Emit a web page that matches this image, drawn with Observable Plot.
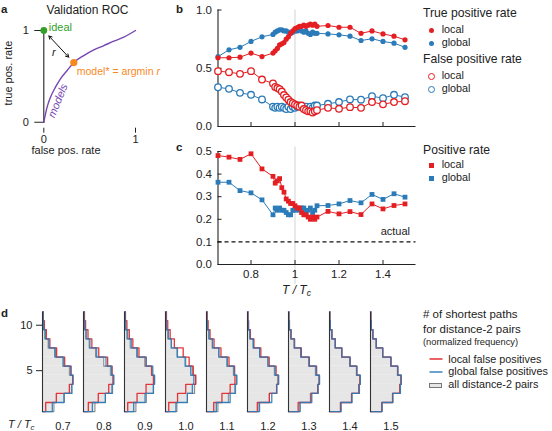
<!DOCTYPE html>
<html><head><meta charset="utf-8">
<script src="https://cdn.jsdelivr.net/npm/d3@7"></script>
<script src="https://cdn.jsdelivr.net/npm/@observablehq/plot@0.6"></script>
<style>
body{margin:0;background:#fff;}
#fig{position:relative;width:552px;height:431px;font-family:"Liberation Sans",Arial,sans-serif;color:#222;overflow:hidden;background:#fff}
#fig svg{position:absolute;overflow:visible}
.t{position:absolute;white-space:nowrap;line-height:1;}
.t sub{font-size:0.72em;vertical-align:-0.25em;line-height:0}
.mk{position:absolute;box-sizing:border-box}
</style></head><body><div id="fig"></div>
<script>
// ---------- data ----------
// panel a: validation ROC
const rocFpr = [0, 0.036, 0.073, 0.127, 0.182, 0.255, 0.327, 0.436, 0.545, 0.655, 0.764, 0.873, 1];
const rocTpr = [0, 0.164, 0.273, 0.382, 0.473, 0.564, 0.65, 0.727, 0.789, 0.836, 0.884, 0.927, 1];
const idealPt = [0, 1];
const modelPt = [0.327, 0.65];

// panels b, c: temperature T/Tc
const Tvals = [0.65, 0.70, 0.75, 0.80, 0.85,
  0.90, 0.91, 0.92, 0.93, 0.94, 0.95, 0.96, 0.97, 0.98, 0.99, 1.00,
  1.01, 1.02, 1.03, 1.04, 1.05, 1.06, 1.07, 1.08, 1.09, 1.10,
  1.15, 1.20, 1.25, 1.30, 1.35, 1.40, 1.45, 1.50];
const tprLocal = [0.59, 0.59, 0.595, 0.63, 0.60,
  0.63, 0.65, 0.67, 0.70, 0.71, 0.72, 0.75, 0.77, 0.80, 0.82, 0.84,
  0.85, 0.86, 0.86, 0.87, 0.86, 0.87, 0.88, 0.87, 0.88, 0.86,
  0.867, 0.852, 0.852, 0.80, 0.82, 0.795, 0.775, 0.744];
const tprGlobal = [0.60, 0.658, 0.68, 0.73, 0.77,
  0.79, 0.81, 0.82, 0.83, 0.83, 0.82, 0.82, 0.81, 0.80, 0.81, 0.82,
  0.82, 0.83, 0.82, 0.81, 0.82, 0.80, 0.79, 0.81, 0.80, 0.80,
  0.795, 0.787, 0.775, 0.738, 0.753, 0.73, 0.715, 0.68];
const fprLocal = [0.475, 0.466, 0.452, 0.475, 0.403,
  0.37, 0.34, 0.33, 0.32, 0.30, 0.27, 0.25, 0.23, 0.21, 0.20, 0.19,
  0.18, 0.17, 0.18, 0.15, 0.14, 0.13, 0.13, 0.12, 0.13, 0.14,
  0.16, 0.152, 0.166, 0.16, 0.21, 0.19, 0.21, 0.217];
const fprGlobal = [0.337, 0.323, 0.289, 0.272, 0.232,
  0.17, 0.16, 0.17, 0.16, 0.17, 0.16, 0.15, 0.17, 0.15, 0.17, 0.16,
  0.17, 0.18, 0.17, 0.16, 0.17, 0.15, 0.17, 0.16, 0.18, 0.18,
  0.195, 0.21, 0.232, 0.23, 0.26, 0.243, 0.272, 0.252];
const prLocal = [0.482, 0.475, 0.465, 0.49, 0.423,
  0.39, 0.36, 0.37, 0.38, 0.34, 0.32, 0.29, 0.28, 0.27, 0.27, 0.26,
  0.25, 0.25, 0.23, 0.22, 0.22, 0.21, 0.20, 0.21, 0.20, 0.21,
  0.235, 0.224, 0.234, 0.221, 0.268, 0.246, 0.261, 0.268];
const prGlobal = [0.364, 0.364, 0.327, 0.317, 0.286,
  0.22, 0.25, 0.24, 0.25, 0.24, 0.24, 0.23, 0.22, 0.22, 0.24, 0.24,
  0.25, 0.24, 0.25, 0.25, 0.23, 0.24, 0.25, 0.23, 0.24, 0.26,
  0.261, 0.268, 0.283, 0.273, 0.31, 0.288, 0.313, 0.298];
const actualRate = 0.1;
const criticalT = 1;
const xTicksBC = [0.8, 1, 1.2, 1.4];

// panel d: histograms of # shortest paths (bins 1..11)
const dLabels = ["0.7", "0.8", "0.9", "1.0", "1.1", "1.2", "1.3", "1.4", "1.5"];
const pathBins = [1, 2, 3, 4, 5, 6, 7, 8, 9, 10, 11];
const allPairs = [0.071, 0.136, 0.181, 0.188, 0.167, 0.126, 0.075, 0.035, 0.014, 0.005, 0.002];
const localFP = [
  [0.020, 0.086, 0.167, 0.188, 0.178, 0.138, 0.088, 0.046, 0.024, 0.012, 0.005],
  [0.030, 0.092, 0.157, 0.183, 0.178, 0.150, 0.095, 0.052, 0.028, 0.013, 0.006],
  [0.020, 0.078, 0.134, 0.180, 0.170, 0.134, 0.090, 0.052, 0.030, 0.015, 0.006],
  [0.020, 0.075, 0.126, 0.188, 0.173, 0.147, 0.110, 0.055, 0.029, 0.014, 0.006],
  [0.045, 0.096, 0.147, 0.177, 0.175, 0.140, 0.090, 0.047, 0.022, 0.010, 0.004],
  [0.061, 0.136, 0.181, 0.193, 0.178, 0.135, 0.083, 0.040, 0.018, 0.007, 0.003],
  [0.060, 0.140, 0.183, 0.192, 0.175, 0.130, 0.080, 0.038, 0.016, 0.006, 0.002],
  [0.068, 0.138, 0.184, 0.190, 0.170, 0.128, 0.077, 0.036, 0.015, 0.005, 0.002],
  [0.070, 0.138, 0.183, 0.190, 0.170, 0.127, 0.076, 0.036, 0.015, 0.005, 0.002]];
const globalFP = [
  [0.061, 0.133, 0.183, 0.190, 0.175, 0.132, 0.080, 0.040, 0.018, 0.008, 0.004],
  [0.055, 0.136, 0.177, 0.188, 0.175, 0.140, 0.082, 0.040, 0.017, 0.008, 0.003],
  [0.057, 0.128, 0.179, 0.186, 0.176, 0.135, 0.080, 0.042, 0.020, 0.008, 0.004],
  [0.065, 0.136, 0.167, 0.176, 0.157, 0.122, 0.072, 0.037, 0.018, 0.006, 0.003],
  [0.061, 0.147, 0.177, 0.188, 0.172, 0.130, 0.078, 0.038, 0.016, 0.006, 0.002],
  [0.075, 0.151, 0.182, 0.193, 0.172, 0.128, 0.076, 0.036, 0.015, 0.005, 0.002],
  [0.072, 0.145, 0.184, 0.193, 0.172, 0.128, 0.077, 0.036, 0.015, 0.005, 0.002],
  [0.072, 0.140, 0.186, 0.192, 0.170, 0.128, 0.077, 0.036, 0.015, 0.005, 0.002],
  [0.072, 0.139, 0.186, 0.192, 0.170, 0.128, 0.077, 0.036, 0.015, 0.005, 0.002]];

// ---------- styles ----------
const RED = "#e41f23", BLUE = "#2b7bb9", PURPLE = "#7646b3", GREEN = "#34a02c", ORANGE = "#f7881f";
const FONT = "Liberation Sans, Arial, sans-serif";
const fig = document.getElementById("fig");
function place(svg, left, top) { svg.style.left = left + "px"; svg.style.top = top + "px"; fig.appendChild(svg); return svg; }
function label(html, x, yc, size, o = {}) {
  const d = document.createElement("div");
  d.className = "t"; d.innerHTML = html;
  d.style.fontSize = size + "px";
  d.style.top = (yc - 0.55 * size) + "px";
  d.style.left = x + "px";
  if (o.center) d.style.transform = "translateX(-50%)";
  if (o.weight) d.style.fontWeight = o.weight;
  if (o.color) d.style.color = o.color;
  if (o.italic) d.style.fontStyle = "italic";
  if (o.rotate) { d.style.top = yc + "px"; d.style.transform = "translate(-50%,-50%) rotate(-90deg)"; }
  fig.appendChild(d); return d;
}
function marker(kind, color, xc, yc) {
  if (kind === "line") {
    const ns = "http://www.w3.org/2000/svg";
    const svg = document.createElementNS(ns, "svg");
    svg.setAttribute("width", 14); svg.setAttribute("height", 4);
    svg.style.left = (xc - 7) + "px"; svg.style.top = (yc - 2) + "px";
    const ln = document.createElementNS(ns, "line");
    ln.setAttribute("x1", 0.5); ln.setAttribute("x2", 13.5); ln.setAttribute("y1", 2); ln.setAttribute("y2", 2);
    ln.setAttribute("stroke", color); ln.setAttribute("stroke-width", 1.4);
    svg.appendChild(ln); fig.appendChild(svg); return;
  }
  const s = document.createElement("span"); s.className = "mk";
  let w = 5, h = 5;
  if (kind === "dot") { s.style.background = color; s.style.borderRadius = "50%"; }
  if (kind === "ring") { w = 7; h = 7; s.style.border = "1.3px solid " + color; s.style.borderRadius = "50%"; }
  if (kind === "square") { s.style.background = color; }
  if (kind === "box") { w = 13; h = 5; s.style.background = "#e6e6e6"; s.style.border = "1px solid #777"; }
  s.style.width = w + "px"; s.style.height = h + "px";
  s.style.left = (xc - w / 2) + "px"; s.style.top = (yc - h / 2) + "px";
  fig.appendChild(s);
}
const baseStyle = {fontFamily: FONT, fontSize: "11.5px", color: "#222", background: "none", overflow: "visible"};

// ---------- panel a ----------
const roc = rocFpr.map((x, i) => ({x, y: rocTpr[i]}));
const lerp = t => ({x: idealPt[0] + t * (modelPt[0] - idealPt[0]), y: idealPt[1] + t * (modelPt[1] - idealPt[1])});
const A0 = lerp(0.17), A1 = lerp(0.83), AM = lerp(0.5);
const arrows = [{x1: AM.x, y1: AM.y, x2: A0.x, y2: A0.y}, {x1: AM.x, y1: AM.y, x2: A1.x, y2: A1.y}];
const plotA = Plot.plot({
  width: 160, height: 150, marginLeft: 43.3, marginRight: 25, marginTop: 30, marginBottom: 22.3,
  x: {domain: [0, 1], axis: null}, y: {domain: [-0.065, 1], axis: null},
  style: {...baseStyle, fontSize: "11px"},
  marks: [
    Plot.ruleX([0], {y1: -0.015, y2: 1.02, stroke: "#222", strokeWidth: 1.1}),
    Plot.axisY({ticks: [0, 1], tickFormat: d => String(d), tickSize: 9, tickPadding: 6, label: null}),
    Plot.axisX({ticks: [0, 1], tickFormat: d => String(d), tickSize: 5, tickPadding: 2, label: null}),
    Plot.line(roc, {x: "x", y: "y", stroke: PURPLE, strokeWidth: 1.4, curve: "monotone-x"}),
    Plot.arrow(arrows, {x1: "x1", y1: "y1", x2: "x2", y2: "y2", stroke: "#111", strokeWidth: 1, headLength: 5}),
    Plot.text([AM], {x: "x", y: "y", text: () => "r", dx: -5, dy: 6, fontStyle: "italic", fontSize: 11, fill: "#222"}),
    Plot.dot([idealPt], {x: d => d[0], y: d => d[1], r: 3.4, fill: GREEN}),
    Plot.dot([modelPt], {x: d => d[0], y: d => d[1], r: 3.6, fill: ORANGE}),
    Plot.text([idealPt], {x: d => d[0], y: d => d[1], text: () => "ideal", textAnchor: "start", dx: 5, dy: -3, fill: GREEN, fontSize: 11}),
    Plot.text([modelPt], {x: d => d[0], y: d => d[1], text: () => "model* = argmin r", textAnchor: "start", dx: 3, dy: 9.5, fill: ORANGE, fontSize: 10.5}),
    Plot.text([roc[2]], {x: "x", y: "y", text: () => "models", dx: 7.5, dy: 3.5, rotate: -68, fill: PURPLE, fontStyle: "italic", fontSize: 11})
  ]
});
plotA.querySelectorAll("text").forEach(el => {
  if (el.textContent === "model* = argmin r") {
    el.textContent = "model* = argmin ";
    const ts = document.createElementNS("http://www.w3.org/2000/svg", "tspan");
    ts.setAttribute("font-style", "italic"); ts.textContent = "r";
    el.appendChild(ts);
  }
});
place(plotA, 0, 0);

// ---------- panel b ----------
const xDom = [0.65, 1.55];
const rowsBC = Tvals.map((t, i) => ({T: t, tprL: tprLocal[i], tprG: tprGlobal[i], fprL: fprLocal[i], fprG: fprGlobal[i], prL: prLocal[i], prG: prGlobal[i]}));
const plotB = Plot.plot({
  width: 270, height: 140, marginLeft: 57.5, marginRight: 14.5, marginTop: 9.5, marginBottom: 14,
  x: {domain: xDom, axis: null}, y: {domain: [0, 1], axis: null},
  style: baseStyle,
  marks: [
    Plot.ruleX([criticalT], {stroke: "#d6d6d6", strokeWidth: 1.1}),
    Plot.ruleY([0], {stroke: "#222", strokeWidth: 1.1}),
    Plot.ruleX([xDom[0]], {stroke: "#222", strokeWidth: 1.1}),
    Plot.axisY({ticks: [0, 0.5, 1], tickFormat: ".1f", tickSize: -4, tickPadding: 10, label: null}),
    Plot.axisX({ticks: xTicksBC, tickSize: -4, tickFormat: () => "", label: null}),
    Plot.line(rowsBC, {x: "T", y: "fprG", stroke: BLUE, strokeWidth: 1}),
    Plot.line(rowsBC, {x: "T", y: "fprL", stroke: RED, strokeWidth: 1}),
    Plot.line(rowsBC, {x: "T", y: "tprG", stroke: BLUE, strokeWidth: 1}),
    Plot.line(rowsBC, {x: "T", y: "tprL", stroke: RED, strokeWidth: 1}),
    Plot.dot(rowsBC, {x: "T", y: "fprG", r: 3.3, stroke: BLUE, strokeWidth: 1.3, fill: "white"}),
    Plot.dot(rowsBC, {x: "T", y: "fprL", r: 3.3, stroke: RED, strokeWidth: 1.3, fill: "white"}),
    Plot.dot(rowsBC, {x: "T", y: "tprG", r: 2.6, fill: BLUE}),
    Plot.dot(rowsBC, {x: "T", y: "tprL", r: 2.6, fill: RED})
  ]
});
place(plotB, 160, 0);

// ---------- panel c ----------
const plotC = Plot.plot({
  width: 270, height: 145, marginLeft: 57.5, marginRight: 14.5, marginTop: 11, marginBottom: 21,
  x: {domain: xDom, axis: null}, y: {domain: [0, 0.5], axis: null},
  style: baseStyle,
  marks: [
    Plot.ruleX([criticalT], {y1: -0.088, y2: 0.52, stroke: "#d6d6d6", strokeWidth: 1.1}),
    Plot.ruleY([0], {stroke: "#222", strokeWidth: 1.1}),
    Plot.ruleX([xDom[0]], {y1: 0, y2: 0.5, stroke: "#222", strokeWidth: 1.1}),
    Plot.axisY({ticks: [0, 0.1, 0.2, 0.3, 0.4, 0.5], tickFormat: ".1f", tickSize: -4, tickPadding: 10, label: null}),
    Plot.axisX({ticks: xTicksBC, tickSize: -4, tickPadding: 9.5, tickFormat: d => String(d), label: null}),
    Plot.ruleY([actualRate], {stroke: "#111", strokeWidth: 1.2, strokeDasharray: "4,3"}),
    Plot.text([actualRate], {y: d => d, frameAnchor: "right", text: () => "actual", textAnchor: "end", dx: -6, dy: -10, fontSize: 11, fill: "#222"}),
    Plot.line(rowsBC, {x: "T", y: "prG", stroke: BLUE, strokeWidth: 1}),
    Plot.line(rowsBC, {x: "T", y: "prL", stroke: RED, strokeWidth: 1}),
    Plot.dot(rowsBC, {x: "T", y: "prG", r: 2.7, symbol: "square", fill: BLUE}),
    Plot.dot(rowsBC, {x: "T", y: "prL", r: 2.7, symbol: "square", fill: RED})
  ]
});
place(plotC, 160, 140);

// ---------- panel d ----------
function steps(freqs, fx) {
  const pts = [{fx, w: 0, v: pathBins[0] - 0.5}];
  freqs.forEach((f, i) => { pts.push({fx, w: f, v: pathBins[i] - 0.5}, {fx, w: f, v: pathBins[i] + 0.5}); });
  pts.push({fx, w: 0, v: pathBins[pathBins.length - 1] + 0.5});
  return pts;
}
const grayRows = dLabels.flatMap(fx => allPairs.map((f, i) => ({fx, w: f, v: pathBins[i]})));
const graySteps = dLabels.flatMap(fx => steps(allPairs, fx));
const redSteps = dLabels.flatMap((fx, k) => steps(localFP[k], fx));
const blueSteps = dLabels.flatMap((fx, k) => steps(globalFP[k], fx));
const plotD = Plot.plot({
  width: 552, height: 131, marginLeft: 39.3, marginRight: 137.4, marginTop: 12, marginBottom: 19,
  fx: {domain: dLabels, padding: 0},
  x: {domain: [0, 0.255], axis: null}, y: {domain: [0.4, 11.4], axis: null},
  style: {...baseStyle, fontSize: "11px"},
  marks: [
    Plot.rect(grayRows, {fx: "fx", x1: 0, x2: "w", y1: d => d.v - 0.5, y2: d => d.v + 0.5, fill: "#e6e6e6"}),
    Plot.line(graySteps, {fx: "fx", x: "w", y: "v", stroke: "#8a8a8a", strokeWidth: 1.1}),
    Plot.line(redSteps, {fx: "fx", x: "w", y: "v", stroke: RED, strokeWidth: 1.3, strokeOpacity: 0.9}),
    Plot.line(blueSteps, {fx: "fx", x: "w", y: "v", stroke: BLUE, strokeWidth: 1.3, strokeOpacity: 0.9}),
    Plot.ruleX([0], {stroke: "#333", strokeWidth: 1.1}),
    Plot.axisY({ticks: [5, 10], tickSize: 6, tickPadding: 4, label: null}),
    Plot.axisFx({anchor: "bottom", tickSize: 0, tickPadding: 10, label: null})
  ]
});
place(plotD, 0, 300);

// ---------- text: titles, letters, axis labels, legends ----------
label("a", 1, 10.5, 11.5, {weight: "bold"});
label("b", 176, 10.5, 11.5, {weight: "bold"});
label("c", 176, 148.5, 11.5, {weight: "bold"});
label("d", 1, 314.5, 11.5, {weight: "bold"});
label("Validation ROC", 87.5, 10.5, 12, {center: true});
label("true pos. rate", 7.5, 73, 11, {rotate: true});
label("false pos. rate", 66, 151, 11, {center: true});
label("T / T<sub>c</sub>", 296.5, 290.5, 12, {center: true, italic: true});
label("T / T<sub>c</sub>", 8, 425, 11, {italic: true});

// legend b
label("True positive rate", 423, 13.3, 12.2);
marker("dot", RED, 431.7, 30); label("local", 441.7, 30, 10.8);
marker("dot", BLUE, 431.7, 43); label("global", 441.7, 43, 10.8);
label("False positive rate", 423, 60, 12.2);
marker("ring", RED, 431.7, 76); label("local", 441.7, 76, 10.8);
marker("ring", BLUE, 431.7, 89); label("global", 441.7, 89, 10.8);
// legend c
label("Positive rate", 423, 151, 12.2);
marker("square", RED, 431.7, 165); label("local", 441.7, 165, 10.8);
marker("square", BLUE, 431.7, 178); label("global", 441.7, 178, 10.8);
// legend d
label("# of shortest paths", 423, 315, 11.5);
label("for distance-2 pairs", 423, 330, 11.5);
label("(normalized frequency)", 423, 343.5, 9.3);
marker("line", RED, 435.5, 359.3); label("local false positives", 448.3, 359.5, 10.8);
marker("line", BLUE, 435.5, 371.8); label("global false positives", 448.3, 372, 10.8);
marker("box", null, 435, 385.3); label("all distance-2 pairs", 448.3, 385.3, 10.8);
</script>
</body></html>
